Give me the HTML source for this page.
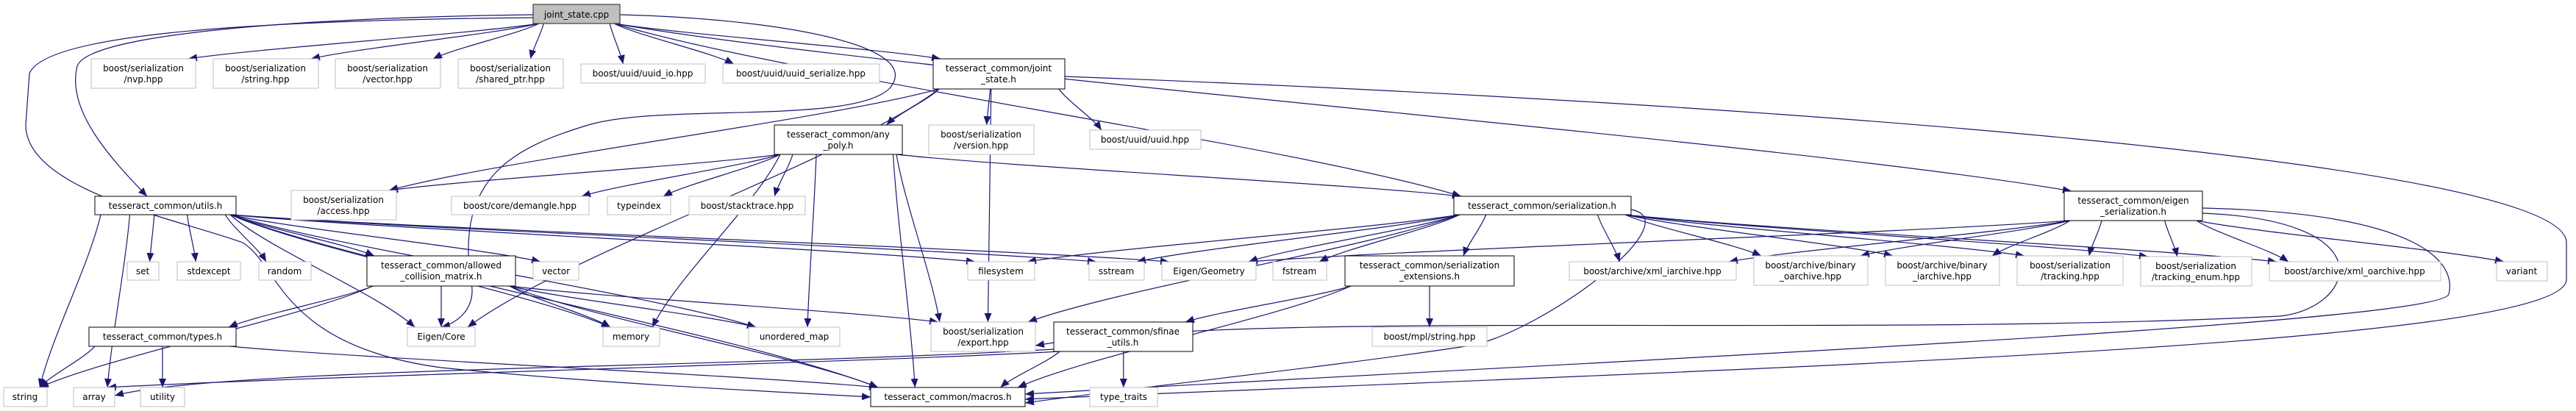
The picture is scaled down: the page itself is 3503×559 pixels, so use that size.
<!DOCTYPE html>
<html><head><meta charset="utf-8"><style>
html,body{margin:0;padding:0;background:#fff;}
svg{display:block;}
text{font-family:"DejaVu Sans","Liberation Sans",sans-serif;font-size:12px;fill:#000;}
</style></head><body>
<svg id="g" width="3503" height="559" viewBox="0 0 3503 559" xmlns="http://www.w3.org/2000/svg">
<defs><marker id="ah" viewBox="0 0 12 10" refX="12" refY="5" markerWidth="12" markerHeight="10" markerUnits="userSpaceOnUse" orient="auto"><path d="M0,0 L12,5 L0,10 z" fill="#191970"/></marker></defs>
<g id="edges" fill="none" stroke="#191970" stroke-width="1.2"></g>
<g id="nodes">
<rect x="725" y="6" width="118" height="26" fill="#bfbfbf" stroke="#404040" stroke-width="1.2"/><text x="784" y="24" text-anchor="middle">joint_state.cpp</text>
<rect x="124" y="80" width="142" height="40" fill="#fff" stroke="#bfbfbf"/><text x="195" y="97" text-anchor="middle">boost/serialization</text><text x="195" y="112" text-anchor="middle">/nvp.hpp</text>
<rect x="290" y="80" width="143" height="40" fill="#fff" stroke="#bfbfbf"/><text x="361" y="97" text-anchor="middle">boost/serialization</text><text x="361" y="112" text-anchor="middle">/string.hpp</text>
<rect x="456" y="80" width="143" height="40" fill="#fff" stroke="#bfbfbf"/><text x="527" y="97" text-anchor="middle">boost/serialization</text><text x="527" y="112" text-anchor="middle">/vector.hpp</text>
<rect x="623" y="80" width="143" height="40" fill="#fff" stroke="#bfbfbf"/><text x="694" y="97" text-anchor="middle">boost/serialization</text><text x="694" y="112" text-anchor="middle">/shared_ptr.hpp</text>
<rect x="790" y="87" width="169" height="26" fill="#fff" stroke="#bfbfbf"/><text x="874" y="104" text-anchor="middle">boost/uuid/uuid_io.hpp</text>
<rect x="983" y="87" width="213" height="26" fill="#fff" stroke="#bfbfbf"/><text x="1089" y="104" text-anchor="middle">boost/uuid/uuid_serialize.hpp</text>
<rect x="1269" y="80" width="179" height="41" fill="#fff" stroke="#000"/><text x="1358" y="97" text-anchor="middle">tesseract_common/joint</text><text x="1358" y="112" text-anchor="middle">_state.h</text>
<rect x="1053" y="170" width="174" height="40" fill="#fff" stroke="#000"/><text x="1140" y="187" text-anchor="middle">tesseract_common/any</text><text x="1140" y="202" text-anchor="middle">_poly.h</text>
<rect x="1263" y="170" width="143" height="40" fill="#fff" stroke="#bfbfbf"/><text x="1334" y="187" text-anchor="middle">boost/serialization</text><text x="1334" y="202" text-anchor="middle">/version.hpp</text>
<rect x="1482" y="177" width="151" height="26" fill="#fff" stroke="#bfbfbf"/><text x="1557" y="194" text-anchor="middle">boost/uuid/uuid.hpp</text>
<rect x="396" y="259" width="143" height="40" fill="#fff" stroke="#bfbfbf"/><text x="467" y="276" text-anchor="middle">boost/serialization</text><text x="467" y="291" text-anchor="middle">/access.hpp</text>
<rect x="129" y="267" width="192" height="25" fill="#fff" stroke="#000"/><text x="225" y="284" text-anchor="middle">tesseract_common/utils.h</text>
<rect x="614" y="267" width="187" height="25" fill="#fff" stroke="#bfbfbf"/><text x="707" y="284" text-anchor="middle">boost/core/demangle.hpp</text>
<rect x="826" y="267" width="86" height="25" fill="#fff" stroke="#bfbfbf"/><text x="869" y="284" text-anchor="middle">typeindex</text>
<rect x="937" y="267" width="158" height="25" fill="#fff" stroke="#bfbfbf"/><text x="1016" y="284" text-anchor="middle">boost/stacktrace.hpp</text>
<rect x="1977" y="267" width="241" height="25" fill="#fff" stroke="#000"/><text x="2097" y="284" text-anchor="middle">tesseract_common/serialization.h</text>
<rect x="2807" y="260" width="188" height="40" fill="#fff" stroke="#000"/><text x="2901" y="277" text-anchor="middle">tesseract_common/eigen</text><text x="2901" y="292" text-anchor="middle">_serialization.h</text>
<rect x="173" y="356" width="43" height="25" fill="#fff" stroke="#bfbfbf"/><text x="194" y="373" text-anchor="middle">set</text>
<rect x="241" y="356" width="86" height="25" fill="#fff" stroke="#bfbfbf"/><text x="284" y="373" text-anchor="middle">stdexcept</text>
<rect x="352" y="356" width="71" height="25" fill="#fff" stroke="#bfbfbf"/><text x="387" y="373" text-anchor="middle">random</text>
<rect x="499" y="348" width="202" height="41" fill="#fff" stroke="#000"/><text x="600" y="365" text-anchor="middle">tesseract_common/allowed</text><text x="600" y="380" text-anchor="middle">_collision_matrix.h</text>
<rect x="725" y="356" width="62" height="25" fill="#fff" stroke="#bfbfbf"/><text x="756" y="373" text-anchor="middle">vector</text>
<rect x="1316" y="356" width="91" height="25" fill="#fff" stroke="#bfbfbf"/><text x="1361" y="373" text-anchor="middle">filesystem</text>
<rect x="1481" y="356" width="75" height="25" fill="#fff" stroke="#bfbfbf"/><text x="1518" y="373" text-anchor="middle">sstream</text>
<rect x="1580" y="356" width="128" height="25" fill="#fff" stroke="#bfbfbf"/><text x="1644" y="373" text-anchor="middle">Eigen/Geometry</text>
<rect x="1731" y="356" width="73" height="25" fill="#fff" stroke="#bfbfbf"/><text x="1767" y="373" text-anchor="middle">fstream</text>
<rect x="1829" y="348" width="230" height="41" fill="#fff" stroke="#000"/><text x="1944" y="365" text-anchor="middle">tesseract_common/serialization</text><text x="1944" y="380" text-anchor="middle">_extensions.h</text>
<rect x="2134" y="356" width="227" height="25" fill="#fff" stroke="#bfbfbf"/><text x="2247" y="373" text-anchor="middle">boost/archive/xml_iarchive.hpp</text>
<rect x="2385" y="348" width="155" height="40" fill="#fff" stroke="#bfbfbf"/><text x="2462" y="365" text-anchor="middle">boost/archive/binary</text><text x="2462" y="380" text-anchor="middle">_oarchive.hpp</text>
<rect x="2564" y="348" width="155" height="40" fill="#fff" stroke="#bfbfbf"/><text x="2641" y="365" text-anchor="middle">boost/archive/binary</text><text x="2641" y="380" text-anchor="middle">_iarchive.hpp</text>
<rect x="2743" y="348" width="144" height="40" fill="#fff" stroke="#bfbfbf"/><text x="2815" y="365" text-anchor="middle">boost/serialization</text><text x="2815" y="380" text-anchor="middle">/tracking.hpp</text>
<rect x="2911" y="349" width="151" height="40" fill="#fff" stroke="#bfbfbf"/><text x="2986" y="366" text-anchor="middle">boost/serialization</text><text x="2986" y="381" text-anchor="middle">/tracking_enum.hpp</text>
<rect x="3086" y="356" width="233" height="26" fill="#fff" stroke="#bfbfbf"/><text x="3202" y="373" text-anchor="middle">boost/archive/xml_oarchive.hpp</text>
<rect x="3395" y="356" width="69" height="26" fill="#fff" stroke="#bfbfbf"/><text x="3429" y="373" text-anchor="middle">variant</text>
<rect x="121" y="445" width="200" height="26" fill="#fff" stroke="#000"/><text x="221" y="462" text-anchor="middle">tesseract_common/types.h</text>
<rect x="554" y="445" width="92" height="26" fill="#fff" stroke="#bfbfbf"/><text x="600" y="462" text-anchor="middle">Eigen/Core</text>
<rect x="820" y="445" width="77" height="26" fill="#fff" stroke="#bfbfbf"/><text x="858" y="462" text-anchor="middle">memory</text>
<rect x="1018" y="445" width="124" height="26" fill="#fff" stroke="#bfbfbf"/><text x="1080" y="462" text-anchor="middle">unordered_map</text>
<rect x="1266" y="438" width="142" height="40" fill="#fff" stroke="#bfbfbf"/><text x="1337" y="455" text-anchor="middle">boost/serialization</text><text x="1337" y="470" text-anchor="middle">/export.hpp</text>
<rect x="1433" y="438" width="189" height="40" fill="#fff" stroke="#000"/><text x="1527" y="455" text-anchor="middle">tesseract_common/sfinae</text><text x="1527" y="470" text-anchor="middle">_utils.h</text>
<rect x="1866" y="445" width="156" height="26" fill="#fff" stroke="#bfbfbf"/><text x="1944" y="462" text-anchor="middle">boost/mpl/string.hpp</text>
<rect x="5" y="527" width="59" height="26" fill="#fff" stroke="#bfbfbf"/><text x="34" y="544" text-anchor="middle">string</text>
<rect x="100" y="527" width="56" height="26" fill="#fff" stroke="#bfbfbf"/><text x="128" y="544" text-anchor="middle">array</text>
<rect x="191" y="527" width="60" height="26" fill="#fff" stroke="#bfbfbf"/><text x="221" y="544" text-anchor="middle">utility</text>
<rect x="1184" y="527" width="210" height="26" fill="#fff" stroke="#000"/><text x="1289" y="544" text-anchor="middle">tesseract_common/macros.h</text>
<rect x="1482" y="527" width="92" height="26" fill="#fff" stroke="#bfbfbf"/><text x="1528" y="544" text-anchor="middle">type_traits</text>
</g>
</svg>
<script>
var N={js:[725,6,843,32],nvp:[124,80,266,120],strh:[290,80,433,120],vech:[456,80,599,120],shp:[623,80,766,120],uio:[790,87,959,113],user:[983,87,1196,113],jsh:[1269,80,1448,121],anyp:[1053,170,1227,210],ver:[1263,170,1406,210],uuid:[1482,177,1633,203],acc:[396,259,539,299],utils:[129,267,321,292],dem:[614,267,801,292],tix:[826,267,912,292],stk:[937,267,1095,292],ser:[1977,267,2218,292],eig:[2807,260,2995,300],set:[173,356,216,381],stde:[241,356,327,381],rand:[352,356,423,381],acm:[499,348,701,389],vec:[725,356,787,381],fs:[1316,356,1407,381],ss:[1481,356,1556,381],eg:[1580,356,1708,381],fst:[1731,356,1804,381],sext:[1829,348,2059,389],xi:[2134,356,2361,381],bo:[2385,348,2540,388],bi:[2564,348,2719,388],trk:[2743,348,2887,388],tre:[2911,349,3062,389],xo:[3086,356,3319,382],vr:[3395,356,3464,382],typ:[121,445,321,471],ec:[554,445,646,471],mem:[820,445,897,471],um:[1018,445,1142,471],exp:[1266,438,1408,478],sfin:[1433,438,1622,478],mpl:[1866,445,2022,471],str:[5,527,64,553],arr:[100,527,156,553],util:[191,527,251,553],mac:[1184,527,1394,553],tt:[1482,527,1574,553]};
var E=[["js","nvp"],["js","strh"],["js","vech"],["js","shp"],["js","uio"],["js","user"],["js","jsh"],["js","ser"],["js","eig"],
["jsh","acc"],["jsh","anyp"],["jsh","ver"],["jsh","uuid"],["jsh","exp"],["jsh","ec"],
["anyp","acc"],["anyp","dem"],["anyp","tix"],["anyp","stk"],["anyp","ser"],["anyp","mem"],["anyp","um"],["anyp","exp"],["anyp","mac"],
["utils","set"],["utils","stde"],["utils","rand"],["utils","acm"],["utils","ec"],["utils","vec"],["utils","ss"],["utils","fs"],["utils","eg"],["utils","mac"],["utils","mem"],["utils","um"],["utils","str"],["utils","arr"],
["acm","str"],["acm","typ"],["acm","ec"],["acm","mem"],["acm","um"],["acm","exp"],["acm","mac"],
["typ","str"],["typ","util"],["typ","mac"],["sfin","arr"],["sfin","tt"],["sfin","mac"],
["ser","ss"],["ser","fst"],["ser","sext"],["ser","xi"],["ser","bo"],["ser","bi"],["ser","trk"],["ser","tre"],["ser","xo"],["ser","fs"],["ser","exp"],["ser","eg"],
["sext","sfin"],["sext","mpl"],["sext","mac"],
["eig","eg"],["eig","xi"],["eig","bo"],["eig","bi"],["eig","trk"],["eig","tre"],["eig","xo"],["eig","vr"]];
var g=document.getElementById("edges"),ns="http://www.w3.org/2000/svg";
function add(d){var p=document.createElementNS(ns,"path");p.setAttribute("d",d);p.setAttribute("marker-end","url(#ah)");g.appendChild(p);}
function cl(v,a,b){return Math.max(a,Math.min(b,v));}
E.forEach(function(e){var s=N[e[0]],t=N[e[1]];var sc=(s[0]+s[2])/2,tc=(t[0]+t[2])/2;
 var x0=cl(sc+(tc-sc)*0.5,s[0]+8,s[2]-8),y0=s[3];
 var x1=cl(tc+(sc-tc)*0.3,t[0]+10,t[2]-10),y1=t[1];
 var dy=y1-y0,dx=x1-x0;
 add("M"+x0+","+y0+" C"+(x0+dx*0.2)+","+(y0+dy*0.3)+" "+(x1-dx*0.2)+","+(y1-dy*0.3)+" "+x1+","+y1);});
add("M725,20 C420,24 120,45 105,90 C90,150 150,215 200,267");
add("M725,24 C300,28 60,50 40,100 L35,170 C35,260 250,300 330,330 C380,360 380,470 600,500 C800,520 1000,530 1184,540");
add("M1448,104 C2400,140 3490,220 3490,330 L3490,380 C3490,470 2400,500 1394,543");
add("M2995,283 C3300,290 3340,360 3330,400 C3320,440 2200,490 1394,536");
add("M2995,290 C3250,300 3200,420 3100,430 C2500,460 1700,420 1408,470");
add("M2218,285 C2300,300 2100,450 2000,470 C1800,500 1600,520 1394,548");
add("M1433,475 C1000,500 300,500 156,538");
add("M843,20 C1050,25 1260,60 1210,120 C1160,170 900,140 800,170 C700,200 620,240 640,380 C650,420 620,440 600,445");
</script>
</body></html>
